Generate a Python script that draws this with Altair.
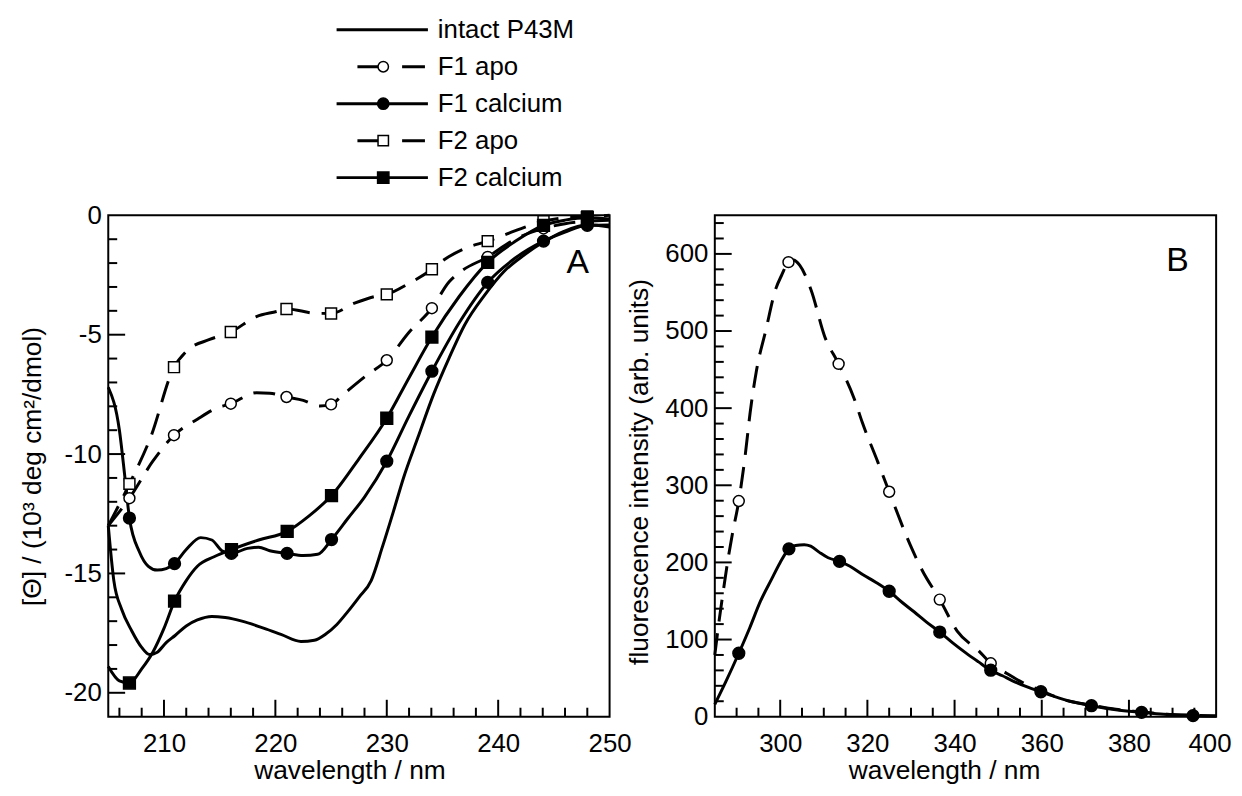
import altair as alt
import pandas as pd

FONT = "Liberation Sans"
FS = 26
TFS = 26.5

# ---------------- Panel A : CD spectra ----------------
A_SERIES = ["intact P43M", "F1 apo", "F1 calcium", "F2 apo", "F2 calcium"]

A_INTACT_X = [205.0, 205.5, 206.2, 207.1, 208.0, 208.7, 209.4, 210.2, 211.0, 212.0, 213.0, 214.3,
              215.5, 217.0, 219.0, 220.5, 222.3, 223.5, 224.5, 225.5, 226.5, 227.5, 228.6, 229.6,
              230.6, 231.5, 232.8, 234.2, 235.6, 237.0, 238.8, 240.5, 242.3, 244.1, 245.8, 248.0, 250.0]
A_INTACT_Y = [-13.0, -15.3, -16.5, -17.4, -18.1, -18.4, -18.3, -17.9, -17.6, -17.2, -16.95, -16.8,
              -16.85, -17.0, -17.3, -17.55, -17.85, -17.8, -17.55, -17.15, -16.6, -16.0, -15.3, -13.9,
              -12.4, -11.0, -9.3, -7.5, -5.97, -4.58, -3.33, -2.36, -1.67, -1.11, -0.69, -0.39, -0.49]

A_F1APO_X = [205.0, 206.9, 209.0, 210.9, 213.0, 214.6, 216.0, 218.3, 219.5, 221.0, 222.5, 224.0, 225.0,
             226.1, 228.2, 230.0, 232.0, 234.05, 235.6, 236.5, 239.06, 241.5, 244.07, 246.0, 248.0, 250.0]
A_F1APO_Y = [-13.0, -11.85, -10.3, -9.21, -8.54, -8.1, -7.89, -7.43, -7.45, -7.61, -7.75, -7.99, -7.92,
             -7.5, -6.7, -6.07, -4.9, -3.89, -2.78, -2.4, -1.74, -1.0, -0.55, -0.35, -0.25, -0.2]
A_F1APO_MX = [206.9, 210.9, 216.0, 221.0, 225.0, 230.0, 234.05, 239.06, 244.07, 248.0]
A_F1APO_MY = [-11.85, -9.21, -7.89, -7.61, -7.92, -6.07, -3.89, -1.74, -0.55, -0.25]

A_F1CA_X = [205.0, 206.0, 206.5, 206.9, 207.8, 208.6, 209.4, 210.2, 210.95, 212.0, 213.3, 214.3, 215.2,
            216.05, 217.5, 218.5, 219.5, 221.05, 222.5, 223.8, 225.04, 226.5, 228.0, 230.0, 232.0,
            234.05, 236.5, 239.06, 241.5, 244.07, 246.0, 248.0, 250.0]
A_F1CA_Y = [-7.2, -9.0, -11.0, -12.68, -14.1, -14.7, -14.86, -14.8, -14.59, -14.0, -13.5, -13.6, -14.05,
            -14.16, -13.95, -13.9, -14.05, -14.16, -14.25, -14.2, -13.58, -12.7, -11.8, -10.3, -8.4,
            -6.53, -4.5, -2.81, -1.8, -1.08, -0.7, -0.42, -0.4]
A_F1CA_MX = [206.9, 210.95, 216.05, 221.05, 225.04, 230.0, 234.05, 239.06, 244.07, 248.0]
A_F1CA_MY = [-12.68, -14.59, -14.16, -14.16, -13.58, -10.3, -6.53, -2.81, -1.08, -0.42]

A_F2APO_X = [205.0, 206.9, 208.8, 210.9, 212.0, 214.1, 216.0, 218.3, 220.1, 221.0, 223.6, 225.0, 227.1,
             228.9, 230.0, 232.0, 234.05, 234.9, 237.0, 239.06, 240.5, 244.07, 246.0, 248.0, 250.0]
A_F2APO_Y = [-13.0, -11.25, -9.3, -6.36, -5.7, -5.2, -4.89, -4.24, -4.03, -3.92, -4.1, -4.11, -3.68,
             -3.4, -3.31, -2.85, -2.26, -1.94, -1.39, -1.08, -0.83, -0.25, -0.1, -0.05, 0.0]
A_F2APO_MX = [206.9, 210.9, 216.0, 221.0, 225.0, 230.0, 234.05, 239.06, 244.07, 248.0]
A_F2APO_MY = [-11.25, -6.36, -4.89, -3.92, -4.11, -3.31, -2.26, -1.08, -0.25, -0.05]

A_F2CA_X = [205.0, 206.0, 206.9, 208.0, 209.0, 210.0, 210.95, 212.0, 213.0, 214.5, 216.06, 218.5, 221.06,
            223.0, 225.04, 227.5, 230.0, 232.0, 234.05, 236.5, 239.06, 241.5, 244.07, 246.0, 248.0, 250.0]
A_F2CA_Y = [-18.9, -19.5, -19.59, -19.0, -18.3, -17.3, -16.16, -15.3, -14.7, -14.3, -14.0, -13.6, -13.24,
            -12.6, -11.74, -10.2, -8.5, -6.8, -5.1, -3.4, -1.97, -1.1, -0.42, -0.2, -0.1, -0.15]
A_F2CA_MX = [206.9, 210.95, 216.06, 221.06, 225.04, 230.0, 234.05, 239.06, 244.07, 248.0]
A_F2CA_MY = [-19.59, -16.16, -14.0, -13.24, -11.74, -8.5, -5.1, -1.97, -0.42, -0.1]

A_X_DOMAIN = [205, 250]
A_Y_DOMAIN = [-21, 0]
A_X_LABELS = [210, 220, 230, 240, 250]
A_X_MAJOR = [210, 220, 230, 240]
A_X_MINOR = [206, 208, 212, 214, 216, 218, 222, 224, 226, 228, 232, 234, 236, 238, 242, 244, 246, 248]
A_Y_LABELS = [0, -5, -10, -15, -20]
A_Y_MAJOR = [-5, -10, -15, -20]
A_Y_MINOR = [-1, -2, -3, -4, -6, -7, -8, -9, -11, -12, -13, -14, -16, -17, -18, -19]

# ---------------- Panel B : fluorescence ----------------
B_APO_X = [285.0, 286.0, 287.0, 288.0, 289.0, 290.5, 292.0, 293.1, 294.5, 296.7, 299.0, 300.3, 301.9,
           303.0, 304.5, 307.1, 310.2, 313.4, 317.0, 318.8, 322.4, 325.0, 329.8, 332.5, 336.6, 340.6,
           345.6, 348.3, 352.0, 355.0, 359.8, 365.0, 371.4, 377.0, 382.9, 388.0, 394.7, 400.0]
B_APO_Y = [80, 125, 165, 203, 236, 279.6, 340, 394, 447, 501, 555, 572, 589.3,
           592, 585, 553, 493, 457.4, 412, 382, 330, 291.6, 223, 190.5, 151.8, 111,
           85, 69.2, 56, 46, 34, 22, 15, 9.5, 6.2, 3.5, 1.8, 1.0]
B_APO_MX = [290.5, 301.9, 313.4, 325.0, 336.6, 348.3]
B_APO_MY = [279.6, 589.3, 457.4, 291.6, 151.8, 69.2]

B_CA_X = [285.0, 287.5, 290.5, 293.0, 295.5, 298.0, 300.0, 302.0, 303.5, 305.5, 307.0, 309.0, 311.0,
          313.6, 316.0, 319.0, 322.0, 325.0, 328.0, 330.7, 333.5, 336.6, 339.5, 342.5, 345.5, 348.3,
          351.0, 353.3, 356.5, 359.8, 363.0, 366.5, 371.4, 377.0, 382.9, 388.0, 394.7, 400.0]
B_CA_Y = [16, 45, 82.2, 115, 150, 178, 200, 217.6, 222, 223, 221, 213, 206,
          201.3, 195, 184, 174, 162.6, 148, 136, 123, 109.7, 96, 83, 71, 60.2,
          53, 46.5, 39, 32.3, 26, 20, 14.2, 9, 5.6, 3, 1.3, 0.8]
B_CA_MX = [290.5, 302.0, 313.6, 325.0, 336.6, 348.3, 359.8, 371.4, 382.9, 394.7]
B_CA_MY = [82.2, 217.6, 201.3, 162.6, 109.7, 60.2, 32.3, 14.2, 5.6, 1.3]

B_X_DOMAIN = [285, 400]
B_Y_DOMAIN = [0, 650]
B_X_LABELS = [300, 320, 340, 360, 380, 400]
B_X_MAJOR = [300, 320, 340, 360, 380]
B_X_MINOR = [290, 295, 305, 310, 315, 325, 330, 335, 345, 350, 355, 365, 370, 375, 385, 390, 395]
B_Y_LABELS = [0, 100, 200, 300, 400, 500, 600]
B_Y_MAJOR = [100, 200, 300, 400, 500, 600]
B_Y_MINOR = [20, 40, 60, 80, 120, 140, 160, 180, 220, 240, 260, 280, 320, 340, 360, 380,
             420, 440, 460, 480, 520, 540, 560, 580, 620, 640]

# ---------------- styling ----------------
W, H = 505, 505
LW = 3
DASH = [22, 12]
MAJ, MIN = 17, 9
TITLE_Y = 62.5
LABEL_PAD_X = 14

STYLE = {
    "intact P43M": dict(dash=None, shape=None, filled=None),
    "F1 apo": dict(dash=DASH, shape="circle", filled=False),
    "F1 calcium": dict(dash=None, shape="circle", filled=True),
    "F2 apo": dict(dash=DASH, shape="square", filled=False),
    "F2 calcium": dict(dash=None, shape="square", filled=True),
}

LABEL_EXPR = "datum.value < 0 ? '-' + format(-datum.value, 'd') : format(datum.value, 'd')"


def axis(values, title, flush=False, **kw):
    return alt.Axis(values=values, title=title, ticks=False, tickSize=0, domain=False, grid=False,
                    labelFont=FONT, labelFontSize=FS, labelColor="black", labelFlush=flush,
                    labelOverlap=False, labelExpr=LABEL_EXPR,
                    titleFont=FONT, titleFontSize=TFS, titleFontWeight="normal", titleColor="black",
                    **kw)


def line_layer(xs, ys, name, xenc, yenc):
    df = pd.DataFrame({"x": xs, "y": ys})
    st = STYLE[name]
    props = dict(interpolate="monotone", strokeWidth=LW, color="black")
    if st["dash"]:
        props["strokeDash"] = st["dash"]
    return alt.Chart(df).mark_line(**props).encode(x=xenc("x"), y=yenc("y"))


def marker_layer(xs, ys, name, xenc, yenc, size=121):
    df = pd.DataFrame({"x": xs, "y": ys})
    st = STYLE[name]
    fill = "black" if st["filled"] else "white"
    return alt.Chart(df).mark_point(shape=st["shape"], filled=True, fill=fill, stroke="black",
                                    strokeWidth=1.5, size=size if not st["filled"] else size + 20,
                                    opacity=1).encode(x=xenc("x"), y=yenc("y"))


def tick_layers(xmaj, xmin, ymaj, ymin, xenc, yenc):
    out = []
    for vals, ln in ((xmaj, MAJ), (xmin, MIN)):
        out.append(alt.Chart(pd.DataFrame({"v": vals})).mark_rule(color="black", strokeWidth=2)
                   .encode(x=xenc("v"), y=alt.value(H), y2=alt.value(H - ln)))
    for vals, ln in ((ymaj, MAJ), (ymin, MIN)):
        out.append(alt.Chart(pd.DataFrame({"v": vals})).mark_rule(color="black", strokeWidth=2)
                   .encode(y=yenc("v"), x=alt.value(0), x2=alt.value(ln)))
    return out


# ---- Panel A ----
ax_axis = axis(A_X_LABELS, "wavelength / nm", labelPadding=LABEL_PAD_X, titleX=243, titleY=TITLE_Y,
               titleBaseline="alphabetic")
ay_axis = axis(A_Y_LABELS, "[Θ] / (10³ deg cm²/dmol)", labelPadding=7, titleX=-76.5,
               titleBaseline="middle")
ax_scale = alt.Scale(domain=A_X_DOMAIN, nice=False, zero=False)
ay_scale = alt.Scale(domain=A_Y_DOMAIN, nice=False, zero=False)


def axA(f):
    return alt.X(f"{f}:Q", scale=ax_scale, axis=ax_axis)


def ayA(f):
    return alt.Y(f"{f}:Q", scale=ay_scale, axis=ay_axis)


a_layers = [
    line_layer(A_INTACT_X, A_INTACT_Y, "intact P43M", axA, ayA),
    line_layer(A_F1APO_X, A_F1APO_Y, "F1 apo", axA, ayA),
    line_layer(A_F2APO_X, A_F2APO_Y, "F2 apo", axA, ayA),
    line_layer(A_F1CA_X, A_F1CA_Y, "F1 calcium", axA, ayA),
    line_layer(A_F2CA_X, A_F2CA_Y, "F2 calcium", axA, ayA),
]
a_layers += tick_layers(A_X_MAJOR, A_X_MINOR, A_Y_MAJOR, A_Y_MINOR, axA, ayA)
a_layers += [
    marker_layer(A_F1APO_MX, A_F1APO_MY, "F1 apo", axA, ayA),
    marker_layer(A_F2APO_MX, A_F2APO_MY, "F2 apo", axA, ayA),
    marker_layer(A_F1CA_MX, A_F1CA_MY, "F1 calcium", axA, ayA),
    marker_layer(A_F2CA_MX, A_F2CA_MY, "F2 calcium", axA, ayA),
]
data_A = alt.layer(*a_layers)

# legend (drawn above panel A, rows placed by a point scale)
leg_y = alt.Y("series:N", scale=alt.Scale(type="point", domain=A_SERIES, range=[-187, -38], padding=0),
              axis=None)
leg_parts = []
for name in A_SERIES:
    st = STYLE[name]
    df = pd.DataFrame({"series": [name]})
    if st["dash"]:
        leg_parts.append(alt.Chart(df).mark_rule(color="black", strokeWidth=LW, strokeDash=[23, 22])
                         .encode(y=leg_y, x=alt.value(251), x2=alt.value(319)))
    else:
        leg_parts.append(alt.Chart(df).mark_rule(color="black", strokeWidth=LW)
                         .encode(y=leg_y, x=alt.value(230), x2=alt.value(322)))
    if st["shape"]:
        fill = "black" if st["filled"] else "white"
        leg_parts.append(alt.Chart(df).mark_point(shape=st["shape"], filled=True, fill=fill,
                                                  stroke="black", strokeWidth=1.5,
                                                  size=110 if not st["filled"] else 130, opacity=1)
                         .encode(y=leg_y, x=alt.value(277)))
leg_parts.append(alt.Chart(pd.DataFrame({"series": A_SERIES})).mark_text(
    font=FONT, fontSize=FS, align="left", baseline="middle", color="black")
    .encode(y=leg_y, x=alt.value(332), text="series:N"))
leg_parts.append(alt.Chart(pd.DataFrame({"t": ["A"]})).mark_text(
    font=FONT, fontSize=34, align="center", baseline="middle", color="black")
    .encode(text="t:N", x=alt.value(473), y=alt.value(48)))
legend_A = alt.layer(*leg_parts)

panelA = alt.layer(data_A, legend_A).resolve_scale(y="independent").properties(width=W, height=H)

# ---- Panel B ----
bx_axis = axis(B_X_LABELS, "wavelength / nm", flush=True, labelFlushOffset=15,
               labelPadding=LABEL_PAD_X, titleX=231, titleY=TITLE_Y, titleBaseline="alphabetic")
by_axis = axis(B_Y_LABELS, "fluorescence intensity (arb. units)", labelPadding=7, titleX=-75.5,
               titleY=258, titleBaseline="middle")
bx_scale = alt.Scale(domain=B_X_DOMAIN, nice=False, zero=False)
by_scale = alt.Scale(domain=B_Y_DOMAIN, nice=False, zero=False)


def axB(f):
    return alt.X(f"{f}:Q", scale=bx_scale, axis=bx_axis)


def ayB(f):
    return alt.Y(f"{f}:Q", scale=by_scale, axis=by_axis)


b_layers = [
    line_layer(B_APO_X, B_APO_Y, "F1 apo", axB, ayB),
    line_layer(B_CA_X, B_CA_Y, "F1 calcium", axB, ayB),
]
b_layers += tick_layers(B_X_MAJOR, B_X_MINOR, B_Y_MAJOR, B_Y_MINOR, axB, ayB)
b_layers += [
    marker_layer(B_APO_MX, B_APO_MY, "F1 apo", axB, ayB),
    marker_layer(B_CA_MX, B_CA_MY, "F1 calcium", axB, ayB),
    alt.Chart(pd.DataFrame({"t": ["B"]})).mark_text(
        font=FONT, fontSize=34, align="center", baseline="middle", color="black")
    .encode(text="t:N", x=alt.value(466), y=alt.value(46)),
]
panelB = alt.layer(*b_layers).properties(width=W, height=H)

chart = (
    alt.hconcat(panelA, panelB, spacing=-7)
    .properties(padding={"left": 10, "top": 5, "right": 2, "bottom": 0})
    .configure_view(stroke="black", strokeWidth=2)
)

chart.save("out.html", embed_options={"renderer": "svg", "actions": False})
